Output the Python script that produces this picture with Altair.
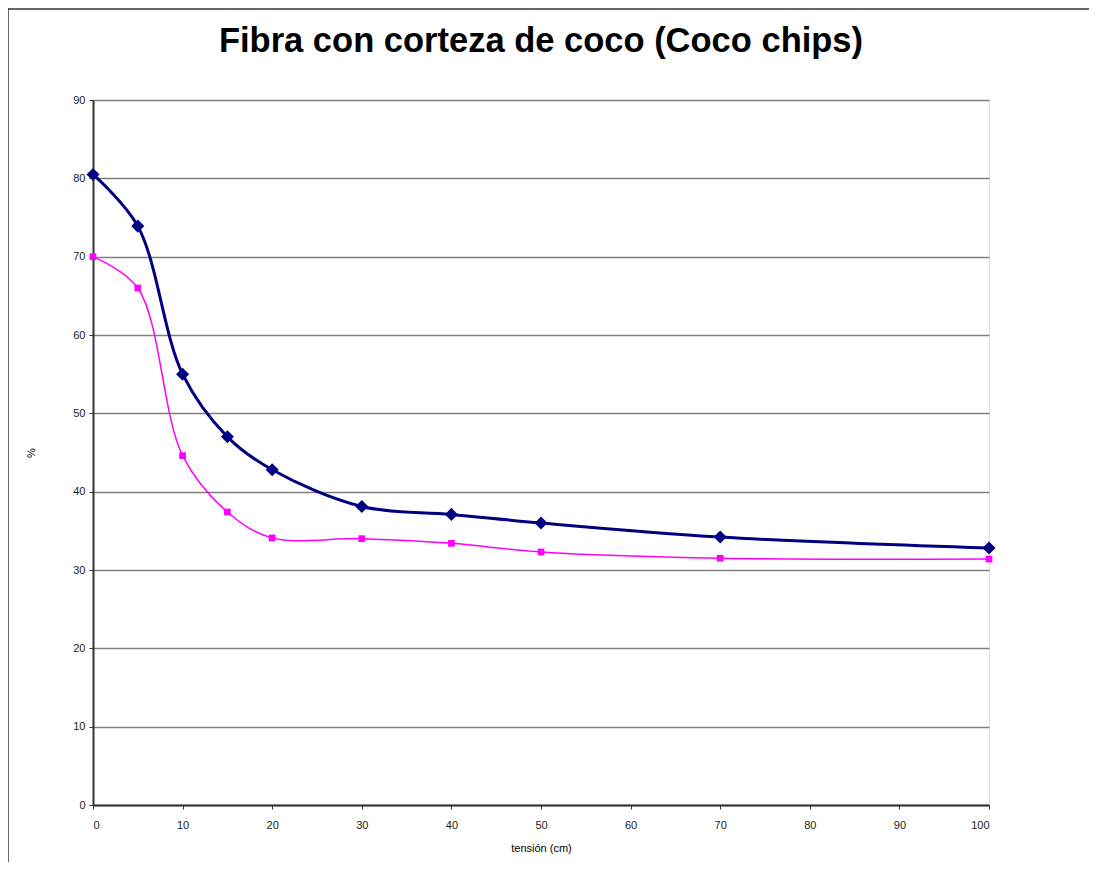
import altair as alt
import pandas as pd

tension = [0, 5, 10, 15, 20, 30, 40, 50, 70, 100]
serie_azul = [80.5, 73.9, 55.0, 47.0, 42.8, 38.1, 37.1, 36.0, 34.2, 32.8]
serie_rosa = [70.0, 66.0, 44.6, 37.4, 34.1, 34.0, 33.4, 32.3, 31.5, 31.4]

df_a = pd.DataFrame({"x": tension, "y": serie_azul})
df_r = pd.DataFrame({"x": tension, "y": serie_rosa})

xs = alt.X("x:Q", scale=alt.Scale(domain=[0, 100], nice=False),
           axis=alt.Axis(values=list(range(0, 101, 10)), title="tensión (cm)",
                         grid=False, domainColor="#333333", domainWidth=2,
                         tickColor="#333333", tickSize=4, labelFontSize=11,
                         labelColor="#222222", labelFont="Liberation Sans",
                         titleFont="Liberation Sans", titleFontSize=11,
                         titleFontWeight="normal", titlePadding=12, labelPadding=10))
ys = alt.Y("y:Q", scale=alt.Scale(domain=[0, 90], nice=False),
           axis=alt.Axis(values=list(range(0, 91, 10)), title="%",
                         grid=True, gridColor="#7f7f7f", gridWidth=1.5,
                         domainColor="#333333", domainWidth=2,
                         tickColor="#333333", tickSize=4, labelFontSize=11,
                         labelColor="#222222", labelFont="Liberation Sans",
                         titleFont="Liberation Sans", titleFontSize=11,
                         titleFontWeight="normal", titlePadding=36, labelPadding=4))

azul_line = alt.Chart(df_a).mark_line(color="#000080", strokeWidth=3,
                                      interpolate="catmull-rom").encode(x=xs, y=ys)
azul_pts = alt.Chart(df_a).mark_point(shape="diamond", filled=True, color="#000080",
                                      size=170, opacity=1).encode(x="x:Q", y="y:Q")
rosa_line = alt.Chart(df_r).mark_line(color="#FF00FF", strokeWidth=1.5,
                                      interpolate="catmull-rom").encode(x="x:Q", y="y:Q")
rosa_pts = alt.Chart(df_r).mark_point(shape="square", filled=True, color="#FF00FF",
                                      size=45, opacity=1).encode(x="x:Q", y="y:Q")

frame_left = alt.Chart(pd.DataFrame({"a": [0]})).mark_rule(color="#333333", strokeWidth=1.5).encode(
    x=alt.value(-85), y=alt.value(-92), y2=alt.value(762))
frame_top = alt.Chart(pd.DataFrame({"a": [0]})).mark_rule(color="#333333", strokeWidth=1.5).encode(
    x=alt.value(-85), x2=alt.value(996), y=alt.value(-91))

chart = alt.layer(rosa_line, azul_line, rosa_pts, azul_pts, frame_left, frame_top).properties(
    width=896, height=705,
    title=alt.TitleParams("Fibra con corteza de coco (Coco chips)", font="Liberation Sans",
                          fontSize=34.5, fontWeight="bold", color="#000000", offset=0, dy=52),
    autosize=alt.AutoSizeParams(type="none"),
    padding={"left": 85, "top": 92, "right": 100, "bottom": 58},
).configure_view(stroke="#7f7f7f", strokeWidth=1.5).configure(background="white")

chart.save("out.html", embed_options={"renderer": "svg", "actions": False})
